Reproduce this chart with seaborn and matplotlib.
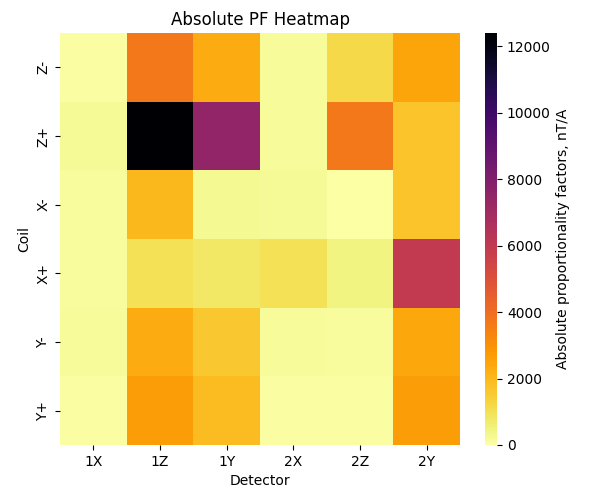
import matplotlib
matplotlib.use("Agg")
import matplotlib.pyplot as plt
import seaborn as sns
import pandas as pd
import numpy as np

detectors = ["1X", "1Z", "1Y", "2X", "2Z", "2Y"]
coils = ["Z-", "Z+", "X-", "X+", "Y-", "Y+"]
row_z_minus = [80, 3700, 2300, 150, 1200, 2500]
row_z_plus = [200, 12400, 7500, 150, 3700, 1700]
row_x_minus = [100, 2000, 250, 200, 30, 1700]
row_x_plus = [100, 1000, 800, 1000, 450, 6000]
row_y_minus = [150, 2300, 1600, 150, 100, 2400]
row_y_plus = [80, 2700, 1900, 60, 60, 2700]

df = pd.DataFrame([row_z_minus, row_z_plus, row_x_minus, row_x_plus, row_y_minus, row_y_plus],
                  index=pd.Index(coils, name="Coil"),
                  columns=pd.Index(detectors, name="Detector"))

fig = plt.figure(figsize=(5.89, 5.0), dpi=100)
ax = fig.add_axes([0.102, 0.11, 0.679, 0.824])
cax = fig.add_axes([0.823, 0.11, 0.021, 0.824])
sns.heatmap(df, cmap="inferno_r", vmin=0, ax=ax, cbar_ax=cax,
            cbar_kws={"label": "Absolute proportionality factors, nT/A"})
ax.set_title("Absolute PF Heatmap")
fig.savefig("out.png", dpi=100)
